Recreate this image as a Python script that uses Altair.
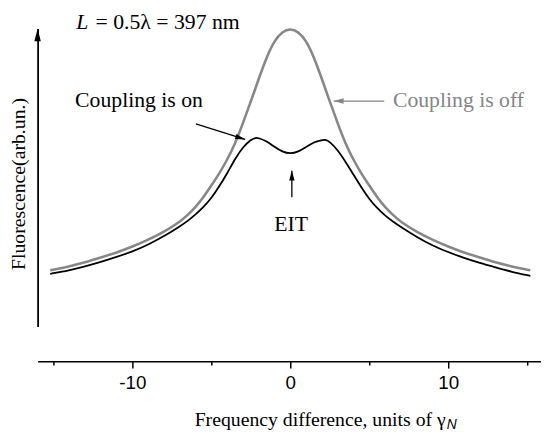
import altair as alt
import pandas as pd

# ---------------- data ----------------
# "Coupling is off" curve (grey)
x_off = [-15.2, -14, -13, -12, -11, -10, -9, -8, -7, -6.5, -6, -5.5, -5, -4.5, -4, -3.5, -3, -2.5, -2, -1.5, -1, -0.5,
         0, 0.5, 1, 1.5, 2, 2.5, 3, 3.5, 4, 4.5, 5, 5.5, 6, 6.5, 7, 8, 9, 10, 11, 12, 13, 14, 15.2]
y_off = [57, 61, 65, 70, 75, 81, 88, 96, 106, 113, 121, 131, 143, 155, 169, 185, 206, 228, 251, 273, 290, 299,
         302, 299, 290, 273, 251, 228, 206, 185, 169, 155, 143, 131, 121, 113, 106, 96, 88, 81, 75, 70, 65, 61, 57]

# "Coupling is on" curve (black, with EIT dip)
x_on = [-15.2, -14, -13, -12, -11, -10, -9, -8, -7, -6.5, -6, -5.5, -5, -4.5, -4, -3.5, -3, -2.5, -2.2, -2, -1.5, -1, -0.5,
        0, 0.5, 1, 1.5, 2, 2.2, 2.5, 3, 3.5, 4, 4.5, 5, 5.5, 6, 6.5, 7, 8, 9, 10, 11, 12, 13, 14, 15.2]
y_on = [53.5, 57, 61, 65.5, 70.5, 76, 83, 91.5, 101.5, 107, 113.5, 121, 130, 142, 155, 170, 182, 189.5, 191.5, 191, 188, 182, 177,
        175, 177, 182, 187, 189, 189.5, 187.5, 179, 167, 154, 141, 129, 120, 112.5, 106.5, 101, 91, 82, 75.5, 69.5, 64.5, 60, 55.5, 51.5]

tick_values = [-15, -10, -5, 0, 5, 10, 15]

# annotations
label_text = ["= 0.5λ = 397 nm", "Coupling is on", "Coupling is off"]
label_x = [-12.33, -13.625, 6.5]
label_y = [302, 223, 223]
label_color = ["black", "black", "#858585"]

italic_text = ["L"]
italic_x = [-13.56]
italic_y = [302]

center_text = ["EIT"]
center_x = [0.06]
center_y = [97]

sub_text = ["N"]
sub_x = [9.9]
sub_y = [-104]

arrow_x = [-5.98, 5.95, 0.1]
arrow_y = [205.3, 228.5, 131]
arrow_x2 = [-2.86, 2.75, 0.1]
arrow_y2 = [189.7, 228.5, 158]
arrow_angle = [17, 180, 270]
arrow_color = ["black", "#858585", "black"]

# ---------------- chart ----------------
SERIF = "Liberation Serif"
SANS = "Liberation Sans"

off_df = pd.DataFrame({"x": x_off, "y": y_off})
on_df = pd.DataFrame({"x": x_on, "y": y_on})
lab_df = pd.DataFrame({"t": label_text, "x": label_x, "y": label_y, "c": label_color})
ital_df = pd.DataFrame({"t": italic_text, "x": italic_x, "y": italic_y})
cen_df = pd.DataFrame({"t": center_text, "x": center_x, "y": center_y})
sub_df = pd.DataFrame({"t": sub_text, "x": sub_x, "y": sub_y})
arr_df = pd.DataFrame({"x": arrow_x, "y": arrow_y, "x2": arrow_x2, "y2": arrow_y2, "c": arrow_color})
head_df = pd.DataFrame({"x": arrow_x2, "y": arrow_y2, "a": arrow_angle, "c": arrow_color})
yarrow_df = pd.DataFrame({"x": [-16], "y": [302]})

xs = alt.Scale(domain=[-16, 15.875], nice=False, zero=False)
ys = alt.Scale(domain=[0, 302], nice=False, zero=False)

x_axis = alt.Axis(
    values=tick_values,
    title="Frequency difference, units of γ",
    titleFont=SERIF, titleFontSize=20, titleFontWeight="normal", titleColor="black",
    titleX=413, titleY=65, titleAlign="right", titleBaseline="alphabetic",
    labelExpr="datum.value % 10 === 0 ? toString(datum.value) : ''",
    labelFont=SANS, labelFontSize=19, labelColor="black", labelPadding=6,
    tickSize={"condition": {"test": "datum.value % 10 === 0", "value": 7}, "value": 4},
    tickColor="black", tickWidth=1.5,
    domainColor="black", domainWidth=1.6,
    grid=False, offset=35,
)
y_axis = alt.Axis(
    title="Fluorescence(arb.un.)",
    titleFont=SERIF, titleFontSize=20, titleFontWeight="normal", titleColor="black",
    titleX=-13, titleY=157, titleAngle=270, titleAlign="center", titleBaseline="alphabetic",
    ticks=False, labels=False, grid=False,
    domainColor="black", domainWidth=1.8,
)

gray = alt.Chart(off_df).mark_line(color="#878787", strokeWidth=2.6, interpolate="basis")
black = alt.Chart(on_df).mark_line(color="black", strokeWidth=1.8, interpolate="basis")

yarrow = alt.Chart(yarrow_df).mark_point(
    shape="M0,0L0.5,2L-0.5,2Z", size=169, filled=True, color="black", opacity=1, strokeWidth=0
)

arrows = alt.Chart(arr_df).mark_rule(strokeWidth=1.3).encode(
    x2="x2:Q", y2="y2:Q", color=alt.Color("c:N", scale=None))
heads = alt.Chart(head_df).mark_point(
    shape="M0,0L-2,-0.55L-2,0.55Z", size=100, filled=True, opacity=1, strokeWidth=0
).encode(angle=alt.Angle("a:Q", scale=None), color=alt.Color("c:N", scale=None))

labels = alt.Chart(lab_df).mark_text(font=SERIF, fontSize=22, align="left", baseline="alphabetic").encode(
    text="t:N", color=alt.Color("c:N", scale=None))
ital = alt.Chart(ital_df).mark_text(font=SERIF, fontSize=22, fontStyle="italic", align="left",
                                    baseline="alphabetic", color="black").encode(text="t:N")
cen = alt.Chart(cen_df).mark_text(font=SERIF, fontSize=22, align="center", baseline="alphabetic",
                                  color="black").encode(text="t:N")
sub = alt.Chart(sub_df).mark_text(font=SANS, fontSize=14, fontStyle="italic", align="left",
                                  baseline="alphabetic", color="black").encode(text="t:N")

chart = alt.layer(gray, black, yarrow, arrows, heads, labels, ital, cen, sub).encode(
    x=alt.X("x:Q", scale=xs, axis=x_axis),
    y=alt.Y("y:Q", scale=ys, axis=y_axis),
).properties(
    width=510, height=302,
    padding={"left": 30, "top": 18, "right": 0, "bottom": 108},
    autosize=alt.AutoSizeParams(type="none"),
    background="white",
).configure_view(stroke=None)

chart.save("out.html", embed_options={"renderer": "svg", "actions": False})
